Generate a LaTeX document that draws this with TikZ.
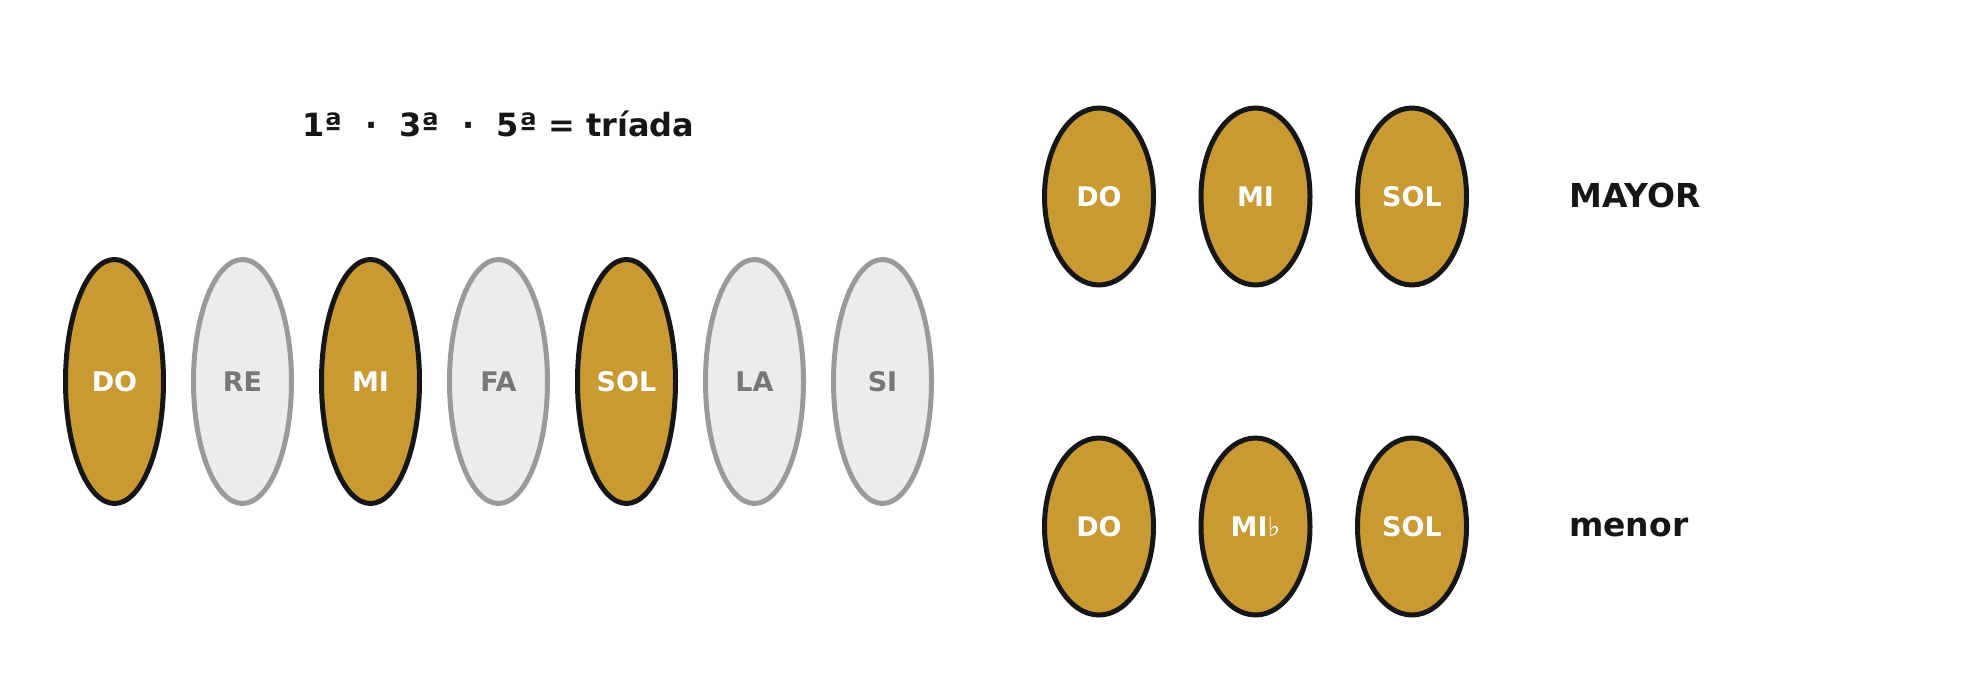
\documentclass[tikz,border=0pt]{standalone}
\usepackage{fontspec}
\setmainfont{DejaVu Sans}
\usetikzlibrary{shapes, positioning}
\definecolor{gold}{HTML}{C99A31}
\definecolor{ink}{HTML}{161616}
\definecolor{offgray}{HTML}{ECECEC}
\definecolor{rimgray}{HTML}{9A9A9A}
\definecolor{notegray}{HTML}{777777}
\tikzstyle{tone} = [draw=ink, fill=gold, ellipse, line width=5pt,
    text=white, font=\fontsize{27}{32}\selectfont\bfseries,
    text height=20pt, text depth=0pt,
    minimum width=98pt, minimum height=244pt]
\tikzstyle{scaletone} = [tone, draw=rimgray, fill=offgray, text=notegray]
\tikzstyle{triadtone} = [tone, minimum width=109pt, minimum height=177pt]
\tikzstyle{chordname} = [anchor=base west, inner sep=0pt, text=ink,
    font=\fontsize{33}{40}\selectfont\bfseries]
\tikzstyle{heading} = [anchor=base, text=ink,
    font=\fontsize{32}{38}\selectfont\bfseries]

\begin{document}
\begin{tikzpicture}[x=1pt, y=-1pt, node distance=128pt]
    \useasboundingbox (0,0) rectangle (1979,699);
    \node [heading] (title) at (498.5,136.7) {1ª\ \ ·\ \ 3ª\ \ ·\ \ 5ª = tríada};
    % escala
    \node [tone] (do) at (114.5,381.5) {DO};
    \node [scaletone, right of=do] (re) {RE};
    \node [tone, right of=re] (mi) {MI};
    \node [scaletone, right of=mi] (fa) {FA};
    \node [tone, right of=fa] (sol) {SOL};
    \node [scaletone, right of=sol] (la) {LA};
    \node [scaletone, right of=la] (si) {SI};
    % acordes
    \begin{scope}[node distance=156.5pt]
    \node [triadtone] (mdo) at (1099,196.5) {DO};
    \node [triadtone, right of=mdo] (mmi) {MI};
    \node [triadtone, right of=mmi] (msol) {SOL};
    \node [chordname] (mayor) at (1569,207.8) {MAYOR};
    \node [triadtone] (ndo) at (1099,526.5) {DO};
    \node [triadtone, right of=ndo] (nmi) {MI{\mdseries ♭}};
    \node [triadtone, right of=nmi] (nsol) {SOL};
    \node [chordname] (menor) at (1569,536.7) {menor};
    \end{scope}
\end{tikzpicture}
\end{document}
